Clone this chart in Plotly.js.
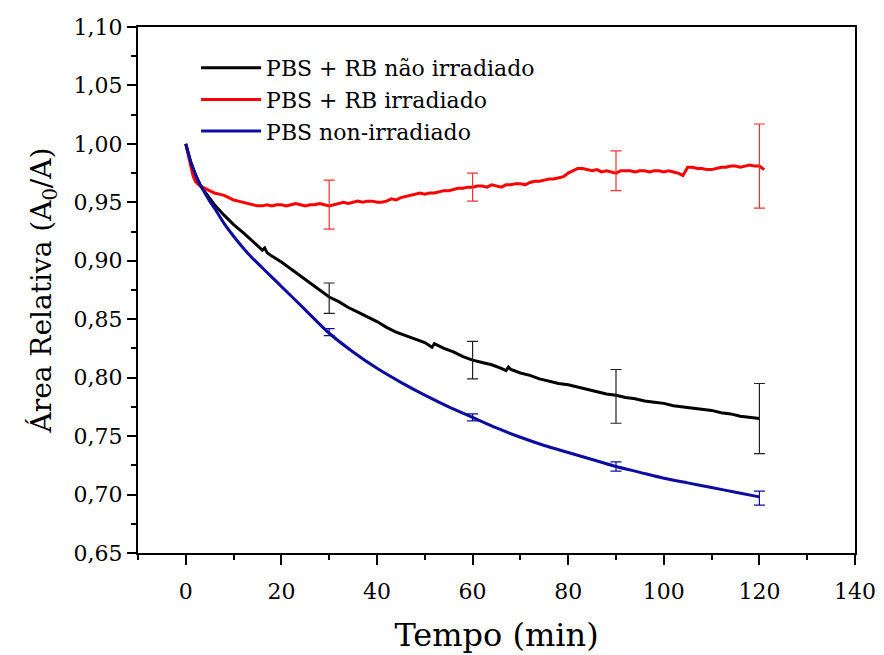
<!DOCTYPE html>
<html>
<head>
<meta charset="utf-8">
<script src="https://cdn.plot.ly/plotly-3.0.1.min.js"></script>
<style>html,body{margin:0;padding:0;background:#fff;}#chart{width:884px;height:655px;}</style>
</head>
<body>
<div id="chart"></div>
<script>
// Series names
const seriesNames = ["PBS + RB não irradiado", "PBS + RB irradiado", "PBS non-irradiado"];

// PBS + RB não irradiado (black)
const blackX = [0,1,2,3,4,5,6,8,10,12,14,15,16,16.5,17,18,20,22,24,26,28,30,32,34,36,38,40,42,44,46,48,50,51.5,52,54,56,58,60,62,64,66,67,67.5,68,70,72,74,76,78,80,82,84,86,88,90,92,94,96,98,100,102,104,106,108,110,112,114,116,118,120];
const blackY = [1.000,0.985,0.974,0.965,0.959,0.953,0.948,0.939,0.931,0.924,0.917,0.913,0.909,0.911,0.907,0.904,0.899,0.893,0.887,0.881,0.875,0.869,0.865,0.860,0.856,0.852,0.848,0.843,0.839,0.836,0.833,0.830,0.826,0.829,0.825,0.822,0.818,0.815,0.813,0.811,0.808,0.806,0.809,0.807,0.804,0.802,0.799,0.797,0.795,0.794,0.792,0.790,0.788,0.786,0.785,0.783,0.782,0.780,0.779,0.778,0.776,0.775,0.774,0.773,0.772,0.770,0.769,0.767,0.766,0.765];

// PBS + RB irradiado (red)
const redX = [0,0.5,1,1.5,2,3,4,5,6,7,8,9,10,11,12,13,14,15,16,17,18,19,20,21,22,23,24,25,26,27,28,29,30,31,32,33,34,35,36,37,38,39,40,41,42,43,44,45,46,47,48,49,50,51,52,53,54,55,56,57,58,59,60,61,62,63,64,65,66,67,68,69,70,71,72,73,74,75,76,77,78,79,80,81,82,83,84,85,86,87,88,89,90,91,92,93,94,95,96,97,98,99,100,101,102,103,104,105,106,107,108,109,110,111,112,113,114,115,116,117,118,119,120,121];
const redY = [1.000,0.990,0.980,0.973,0.968,0.964,0.962,0.960,0.958,0.957,0.956,0.954,0.952,0.951,0.950,0.949,0.948,0.947,0.947,0.948,0.947,0.948,0.948,0.947,0.948,0.949,0.948,0.947,0.948,0.948,0.949,0.948,0.947,0.948,0.949,0.950,0.949,0.950,0.951,0.950,0.951,0.951,0.950,0.950,0.951,0.953,0.952,0.954,0.955,0.956,0.957,0.958,0.957,0.958,0.958,0.959,0.960,0.960,0.961,0.962,0.962,0.963,0.963,0.964,0.964,0.963,0.965,0.964,0.963,0.965,0.965,0.966,0.966,0.965,0.967,0.968,0.968,0.969,0.970,0.970,0.971,0.972,0.975,0.977,0.979,0.979,0.978,0.977,0.978,0.976,0.977,0.976,0.975,0.977,0.977,0.977,0.976,0.977,0.977,0.976,0.977,0.977,0.976,0.977,0.976,0.975,0.973,0.980,0.980,0.979,0.979,0.978,0.978,0.979,0.980,0.980,0.981,0.981,0.980,0.981,0.982,0.981,0.981,0.978];

// PBS non-irradiado (blue)
const blueX = [0,1,2,3,4,5,6,8,10,12,14,16,18,20,25,30,35,40,45,50,55,60,65,70,75,80,85,90,95,100,105,110,115,120];
const blueY = [1.000,0.985,0.974,0.965,0.958,0.951,0.945,0.932,0.921,0.911,0.902,0.894,0.886,0.878,0.858,0.838,0.822,0.808,0.796,0.785,0.775,0.766,0.757,0.749,0.742,0.736,0.730,0.724,0.719,0.714,0.710,0.706,0.702,0.698];

// Error bars (time points, centres, half-widths)
const errX = [30, 60, 90, 120];
const blackErrY = [0.868, 0.815, 0.784, 0.765];
const blackErr = [0.013, 0.016, 0.023, 0.030];
const redErrY = [0.948, 0.963, 0.977, 0.981];
const redErr = [0.021, 0.012, 0.017, 0.036];
const blueErrY = [0.839, 0.766, 0.724, 0.697];
const blueErr = [0.003, 0.003, 0.004, 0.006];

// Axis ticks
const xTicks = [0, 20, 40, 60, 80, 100, 120, 140];
const yTicks = [0.65, 0.70, 0.75, 0.80, 0.85, 0.90, 0.95, 1.00, 1.05, 1.10];

const colBlack = "#000000", colRed = "#ff0000", colBlue = "#0c0ca0";
const FONT = "DejaVu Serif, Liberation Serif, serif";

function lineTrace(x, y, name, color, shape) {
  return {x: x, y: y, name: name, type: "scatter", mode: "lines",
    line: {color: color, width: 3, shape: shape || "linear", smoothing: 0.8}, hoverinfo: "skip"};
}
function errTrace(y, e, color) {
  return {x: errX, y: y, type: "scatter", mode: "markers", showlegend: false,
    marker: {size: 1, color: "rgba(0,0,0,0)"},
    error_y: {type: "data", array: e, visible: true, color: color, thickness: 1.2, width: 5.5},
    hoverinfo: "skip"};
}

const data = [
  lineTrace(blackX, blackY, seriesNames[0], colBlack),
  lineTrace(redX, redY, seriesNames[1], colRed),
  lineTrace(blueX, blueY, seriesNames[2], colBlue, "spline"),
  errTrace(blackErrY, blackErr, "#222222"),
  errTrace(redErrY, redErr, "#ff3030"),
  errTrace(blueErrY, blueErr, colBlue)
];

const layout = {
  width: 884, height: 655,
  margin: {l: 138, r: 29, t: 27, b: 102},
  paper_bgcolor: "#ffffff", plot_bgcolor: "#ffffff",
  separators: ",.",
  font: {family: FONT, color: "#000", size: 22},
  showlegend: true,
  legend: {x: 0.081, y: 0.962, xanchor: "left", yanchor: "top",
    bgcolor: "rgba(0,0,0,0)", borderwidth: 0, itemwidth: 60,
    font: {family: FONT, size: 22, color: "#000"}, tracegroupgap: 0},
  xaxis: {
    range: [-10, 140], tickvals: xTicks, ticks: "outside", ticklen: 10, tickwidth: 2,
    tickcolor: "#000", showline: true, linecolor: "#000", linewidth: 2, mirror: true,
    showgrid: false, zeroline: false, ticklabelstandoff: 8,
    minor: {dtick: 10, ticks: "outside", ticklen: 5, tickwidth: 2, tickcolor: "#000", showgrid: false},
    tickfont: {family: FONT, size: 22, color: "#000"},
    title: {text: "Tempo (min)", font: {family: FONT, size: 32, color: "#000"}, standoff: 20}
  },
  yaxis: {
    range: [0.65, 1.10], tickvals: yTicks, tickformat: ".2f", ticks: "outside", ticklen: 9, tickwidth: 2,
    tickcolor: "#000", showline: true, linecolor: "#000", linewidth: 2, mirror: true,
    showgrid: false, zeroline: false,
    minor: {dtick: 0.025, ticks: "outside", ticklen: 5, tickwidth: 2, tickcolor: "#000", showgrid: false},
    tickfont: {family: FONT, size: 22, color: "#000"},
    title: {text: "Área Relativa (A<sub>0</sub>/A)", font: {family: FONT, size: 28, color: "#000"}, standoff: 14}
  }
};

Plotly.newPlot("chart", data, layout, {displayModeBar: false, staticPlot: true});
</script>
</body>
</html>
